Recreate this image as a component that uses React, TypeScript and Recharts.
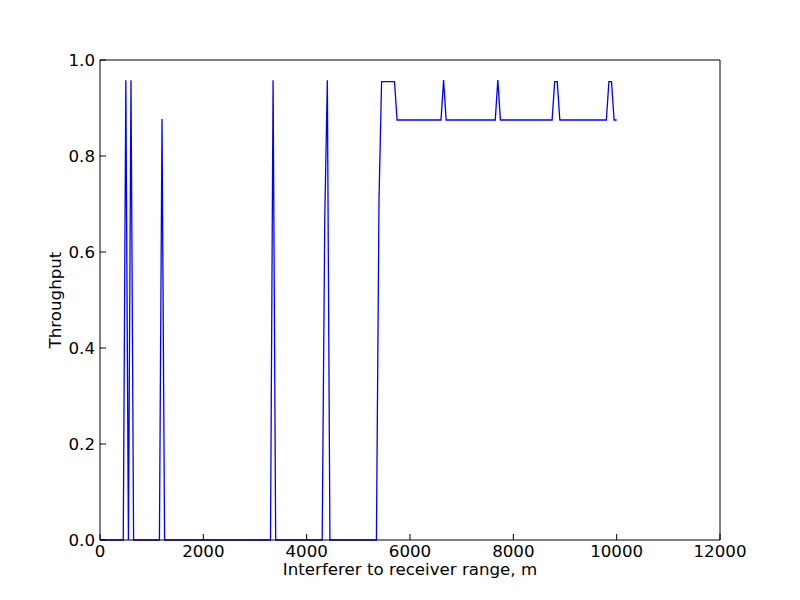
import React from 'react';
import { LineChart, Line, XAxis, YAxis, Label } from 'recharts';

const rangeM = [0, 450, 500, 550, 600, 650, 1150, 1200, 1250, 3300, 3350, 3400, 4300, 4350, 4400, 4450, 5350, 5400, 5450, 5700, 5750, 6600, 6650, 6700, 7650, 7700, 7750, 8750, 8800, 8850, 8900, 9800, 9850, 9900, 9950, 10000];
const throughput = [0, 0, 0.958, 0, 0.958, 0, 0, 0.877, 0, 0, 0.958, 0, 0, 0.667, 0.958, 0, 0, 0.708, 0.955, 0.955, 0.875, 0.875, 0.958, 0.875, 0.875, 0.958, 0.875, 0.875, 0.955, 0.955, 0.875, 0.875, 0.955, 0.955, 0.875, 0.875];
const xTicks = [0, 2000, 4000, 6000, 8000, 10000, 12000];
const yTicks = [0, 0.2, 0.4, 0.6, 0.8, 1.0];

const data = rangeM.map((x, i) => ({ x, y: throughput[i] }));

const font = 'DejaVu Sans';
const fs = 16.67;
const tickStyle = { fill: '#000', fontSize: fs, fontFamily: font };

export default function App() {
  return (
    <div style={{ position: 'absolute', left: 0, top: 0, background: '#fff' }}>
      <LineChart width={800} height={600} data={data} margin={{ top: 59, right: 79, bottom: 0, left: 0 }}>
        <XAxis
          dataKey="x"
          type="number"
          domain={[0, 12000]}
          ticks={xTicks}
          interval={0}
          height={60}
          tickSize={-6}
          tickMargin={11}
          tick={tickStyle}
          axisLine={{ stroke: '#000', strokeWidth: 1 }}
          tickLine={{ stroke: '#000', strokeWidth: 1 }}
          allowDataOverflow
        >
          <Label
            value="Interferer to receiver range, m"
            position="insideBottom"
            offset={25}
            style={{ fill: '#000', fontSize: fs, fontFamily: font }}
          />
        </XAxis>
        <XAxis
          xAxisId="top"
          orientation="top"
          dataKey="x"
          type="number"
          domain={[0, 12000]}
          ticks={xTicks}
          interval={0}
          height={1}
          tickSize={-6}
          tick={false}
          axisLine={{ stroke: '#000', strokeWidth: 1 }}
          tickLine={{ stroke: '#000', strokeWidth: 1 }}
        />
        <YAxis
          type="number"
          domain={[0, 1]}
          ticks={yTicks}
          interval={0}
          width={100}
          tickSize={-6}
          tickMargin={11}
          tick={tickStyle}
          tickFormatter={(v: number) => v.toFixed(1)}
          axisLine={{ stroke: '#000', strokeWidth: 1 }}
          tickLine={{ stroke: '#000', strokeWidth: 1 }}
        >
          <Label
            value="Throughput"
            angle={-90}
            position="insideLeft"
            offset={55}
            style={{ fill: '#000', fontSize: fs, fontFamily: font, textAnchor: 'middle' }}
          />
        </YAxis>
        <YAxis
          yAxisId="right"
          orientation="right"
          type="number"
          domain={[0, 1]}
          ticks={yTicks}
          interval={0}
          width={1}
          tickSize={-6}
          tick={false}
          axisLine={{ stroke: '#000', strokeWidth: 1 }}
          tickLine={{ stroke: '#000', strokeWidth: 1 }}
        />
        <Line
          xAxisId="top"
          yAxisId="right"
          type="linear"
          dataKey="y"
          stroke="none"
          strokeOpacity={0}
          dot={false}
          activeDot={false}
          legendType="none"
          isAnimationActive={false}
        />
        <Line
          type="linear"
          dataKey="y"
          stroke="#0000ff"
          strokeWidth={1.3}
          dot={false}
          activeDot={false}
          isAnimationActive={false}
        />
      </LineChart>
    </div>
  );
}
